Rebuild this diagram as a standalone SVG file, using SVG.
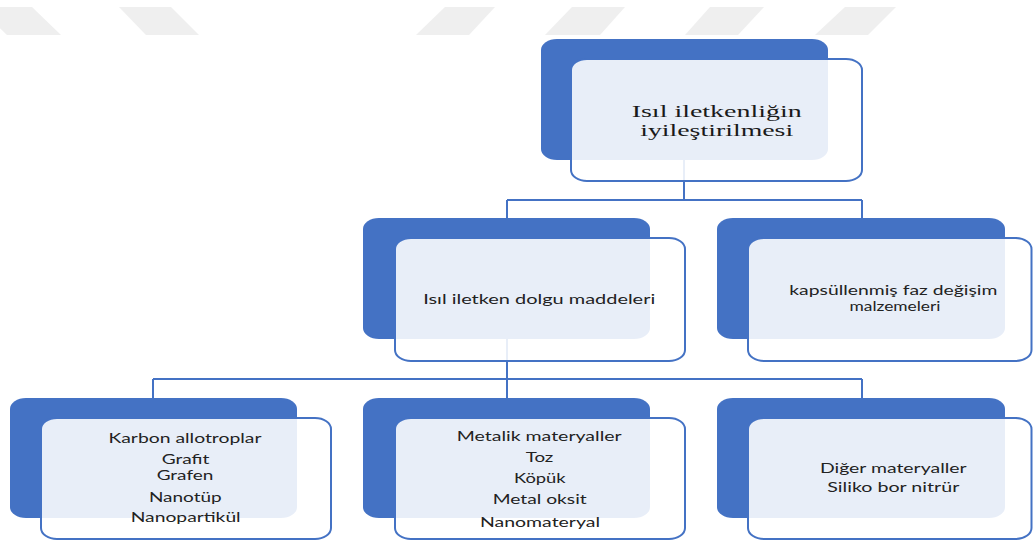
<svg xmlns="http://www.w3.org/2000/svg" width="1033" height="544" viewBox="0 0 1033 544">
<style>
.bg{fill:#ffffff}
.wm{fill:#efefef}
.back{fill:#4472c4}
.front{fill:#ffffff;fill-opacity:0.88;stroke:#4472c4;stroke-width:2}
.conn{fill:none;stroke:#4472c4;stroke-width:2}
.serif{font-family:"Liberation Serif","Times New Roman",serif;font-size:17px;fill:#1a1a1a;text-anchor:middle}
.sans{font-family:Lato,"Liberation Sans",Arial,sans-serif;font-size:13px;fill:#222222;text-anchor:middle}
</style>
<rect class="bg" x="0" y="0" width="1033" height="544"/>
<g id="watermark">
<polygon class="wm" points="-22,7 32,7 61,35 7,35"/>
<polygon class="wm" points="119,7 171,7 199,35 146,35"/>
<polygon class="wm" points="445,7 495,7 469,35 416,35"/>
<polygon class="wm" points="572,7 625,7 600,35 545,35"/>
<polygon class="wm" points="710,7 764,7 738,35 685,35"/>
<polygon class="wm" points="845,7 896,7 868,35 815,35"/>
</g>
<g id="connectors">
<path class="conn" d="M684,160 V200 M507,200 H862 M507,200 V218 M862,200 V218"/>
<path class="conn" d="M507,339 V379 M153,379 H862 M153,379 V398 M507,379 V398 M862,379 V398"/>
</g>
<g id="n-root">
<rect class="back" x="541" y="39" width="287" height="121" rx="16" ry="11"/>
<rect class="front" x="571" y="59" width="291" height="122" rx="16" ry="11"/>
<text class="serif" x="716.7" y="116.5" textLength="170" lengthAdjust="spacingAndGlyphs">Isıl iletkenliğin</text>
<text class="serif" x="716.7" y="135.5" textLength="153" lengthAdjust="spacingAndGlyphs">iyileştirilmesi</text>
</g>
<g id="n-dolgu">
<rect class="back" x="363" y="218" width="287" height="121" rx="16" ry="11"/>
<rect class="front" x="395" y="238" width="290" height="123" rx="16" ry="11"/>
<text class="sans" x="539.2" y="304" textLength="232" lengthAdjust="spacingAndGlyphs">Isıl iletken dolgu maddeleri</text>
</g>
<g id="n-kapsul">
<rect class="back" x="717" y="218" width="288" height="121" rx="16" ry="11"/>
<rect class="front" x="748" y="238" width="283.5" height="123" rx="16" ry="11"/>
<text class="sans" x="893.3" y="295" textLength="208" lengthAdjust="spacingAndGlyphs">kapsüllenmiş faz değişim</text>
<text class="sans" x="895" y="310.7" textLength="91" lengthAdjust="spacingAndGlyphs">malzemeleri</text>
</g>
<g id="n-karbon">
<rect class="back" x="10" y="398" width="287" height="120" rx="16" ry="11"/>
<rect class="front" x="41" y="418" width="290" height="121" rx="16" ry="11"/>
<text class="sans" x="185" y="443.3" textLength="153" lengthAdjust="spacingAndGlyphs">Karbon allotroplar</text>
<text class="sans" x="185.5" y="464" textLength="47.7" lengthAdjust="spacingAndGlyphs">Grafit</text>
<text class="sans" x="185" y="480" textLength="56.7" lengthAdjust="spacingAndGlyphs">Grafen</text>
<text class="sans" x="185.3" y="501.7" textLength="72.7" lengthAdjust="spacingAndGlyphs">Nanotüp</text>
<text class="sans" x="185.7" y="521.7" textLength="110" lengthAdjust="spacingAndGlyphs">Nanopartikül</text>
</g>
<g id="n-metalik">
<rect class="back" x="363" y="398" width="287" height="120" rx="16" ry="11"/>
<rect class="front" x="395" y="418" width="290" height="121" rx="16" ry="11"/>
<text class="sans" x="539.2" y="440.7" textLength="165" lengthAdjust="spacingAndGlyphs">Metalik materyaller</text>
<text class="sans" x="539.5" y="462.3" textLength="27.7" lengthAdjust="spacingAndGlyphs">Toz</text>
<text class="sans" x="539.8" y="483.3" textLength="51.7" lengthAdjust="spacingAndGlyphs">Köpük</text>
<text class="sans" x="539.7" y="504" textLength="94" lengthAdjust="spacingAndGlyphs">Metal oksit</text>
<text class="sans" x="540" y="526.7" textLength="120" lengthAdjust="spacingAndGlyphs">Nanomateryal</text>
</g>
<g id="n-diger">
<rect class="back" x="717" y="398" width="288" height="120" rx="16" ry="11"/>
<rect class="front" x="748" y="418" width="283.5" height="121" rx="16" ry="11"/>
<text class="sans" x="893.3" y="473.3" textLength="146.7" lengthAdjust="spacingAndGlyphs">Diğer materyaller</text>
<text class="sans" x="893.3" y="491.7" textLength="132" lengthAdjust="spacingAndGlyphs">Siliko bor nitrür</text>
</g>
</svg>
